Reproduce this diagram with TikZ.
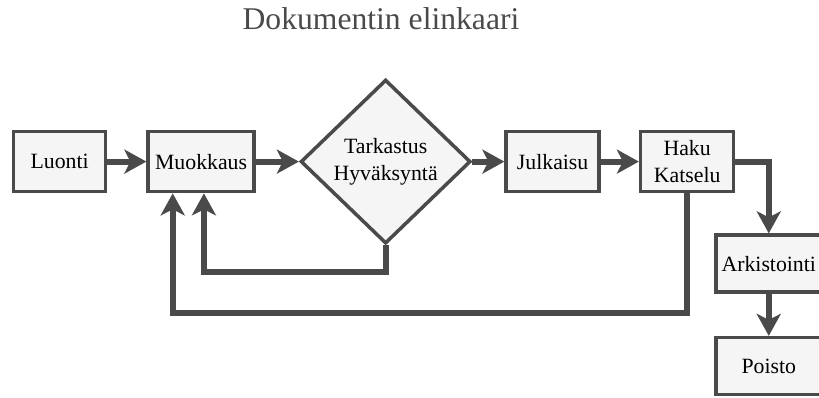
\documentclass[tikz,border=0pt]{standalone}
\usepackage{fontspec}
\setmainfont{Liberation Serif}
\usetikzlibrary{positioning,shapes.geometric,arrows.meta}
\definecolor{ink}{HTML}{4A4A4A}
\definecolor{paper}{HTML}{F5F5F5}

\begin{document}
\begin{tikzpicture}[
      box/.style={draw=ink,fill=paper,line width=2.5pt,rectangle,minimum width=2.3cm,minimum height=1.5cm,align=center,inner sep=2pt,font=\fontsize{15.5}{19.5}\selectfont},
      check/.style={box,diamond,minimum width=4.25cm,minimum height=4.1cm,inner sep=0pt},
      arr/.style={-{Stealth[length=5.5mm,width=6mm,inset=1.5mm]},ink,line width=4.2pt}]
      \useasboundingbox (0,0) rectangle (20.475,-9.925);
      \node[font=\fontsize{22.5}{27}\selectfont,text=ink,anchor=base] (title) at (9.525,-0.725) {Dokumentin elinkaari};
      \node[box] (luonti) at (1.49,-4.04) {Luonti};
      \node[box,minimum width=2.65cm,right=0.975cm of luonti] (muokkaus) {Muokkaus};
      \node[check,right=1.075cm of muokkaus] (tarkastus) {Tarkastus\\Hyväksyntä};
      \node[box,minimum width=2.325cm,right=0.8cm of tarkastus] (julkaisu) {Julkaisu};
      \node[box,minimum width=2.325cm,right=0.95cm of julkaisu] (haku) {Haku\\Katselu};
      \node[box,minimum width=2.65cm,minimum height=1.425cm,below=1.0cm of haku,xshift=2.04cm] (arkisto) {Arkistointi};
      \node[box,minimum width=2.65cm,minimum height=1.425cm,below=1.05cm of arkisto] (poisto) {Poisto};
      \draw[arr] (luonti) -- (muokkaus);
      \draw[arr] (muokkaus) -- (tarkastus);
      \draw[arr] (tarkastus) -- (julkaisu);
      \draw[arr] (julkaisu) -- (haku);
      \draw[arr] (haku.east) -| (arkisto.north);
      \draw[arr] (arkisto) -- (poisto);
      \draw[arr] (tarkastus.south) -- ++(0,-0.675) -| ([xshift=0.07cm]muokkaus.south);
      \draw[arr] (haku.south) -- ++(0,-3.0) -| ([xshift=-0.71cm]muokkaus.south);
    \end{tikzpicture}
\end{document}
